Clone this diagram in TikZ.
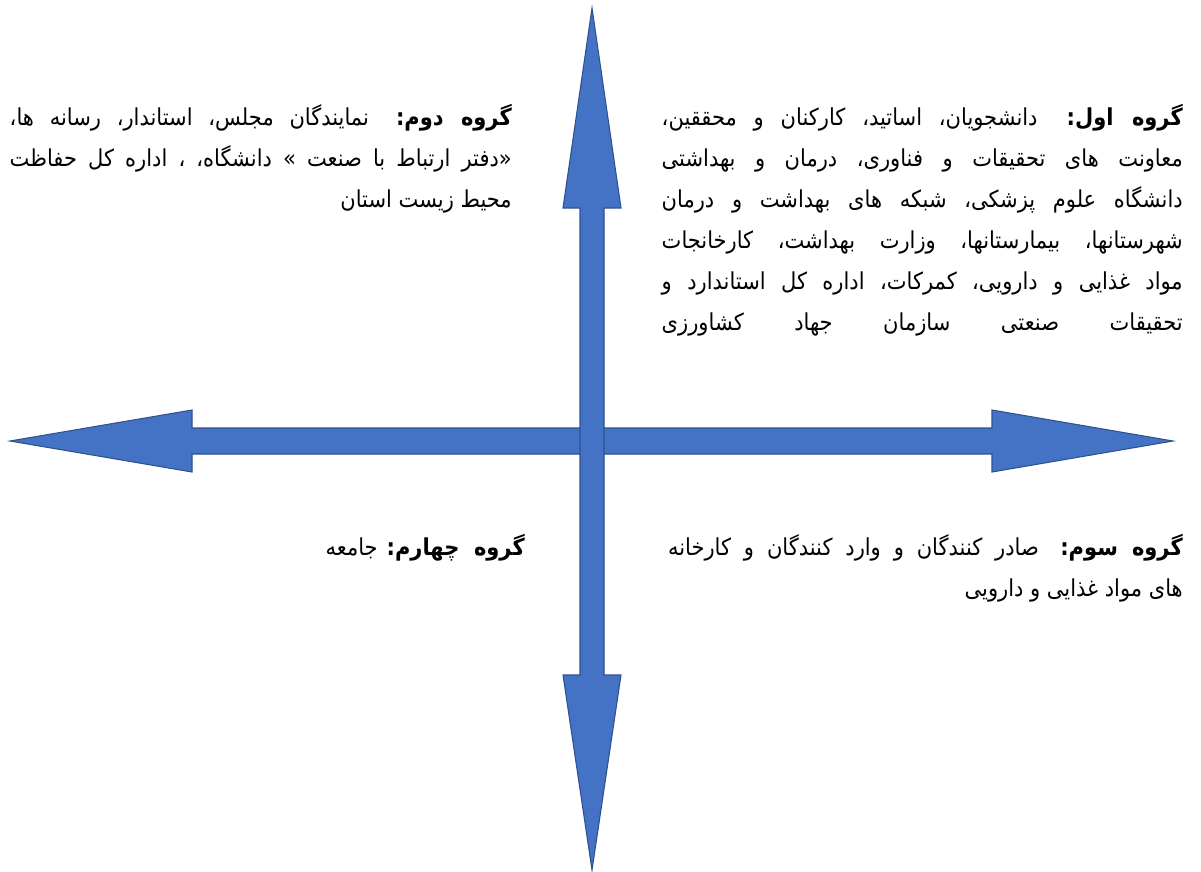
\documentclass[tikz,border=0pt]{standalone}
\usepackage{fontspec}
\newfontfamily\farsi[Script=Arabic,FakeStretch=0.9]{DejaVu Sans}
\TeXXeTstate=1
\usetikzlibrary{positioning}
\definecolor{arrowblue}{HTML}{4472C4}
\definecolor{arrowedge}{HTML}{2F528F}
% justified line box
\newcommand\jbox[2]{\makebox[#1][s]{#2}}

\begin{document}
\begin{tikzpicture}[x=0.75pt,y=-0.75pt,
  bigarrow/.style={fill=arrowblue,draw=arrowedge,line width=0.8pt,line join=miter},
  group/.style={inner sep=0pt,align=right,font=\farsi\fontsize{17.5}{30.75}\selectfont}]
\useasboundingbox (0,0) rectangle (1201,871);
\coordinate (c) at (592,441);
% horizontal double arrow
\draw[bigarrow] (10,441) -- (192,410) -- (192,428) -- (992,428) -- (992,410) -- (1173,441)
  -- (992,472) -- (992,454) -- (192,454) -- (192,472) -- cycle;
% vertical double arrow
\draw[bigarrow] (592,8) -- (621,208) -- (604,208) -- (604,675) -- (621,675) -- (592,870)
  -- (563,675) -- (580,675) -- (580,208) -- (563,208) -- cycle;

\node[group,anchor=north east] (g1) at (1183,104) {%
\jbox{390.75pt}{\beginR\textbf{گروه اول:} دانشجویان، اساتید، کارکنان و محققین،\endR}\\
\jbox{390.75pt}{\beginR معاونت های تحقیقات و فناوری، درمان و بهداشتی\endR}\\
\jbox{390.75pt}{\beginR دانشگاه علوم پزشکی، شبکه های بهداشت و درمان\endR}\\
\jbox{390.75pt}{\beginR شهرستانها، بیمارستانها، وزارت بهداشت، کارخانجات\endR}\\
\jbox{390.75pt}{\beginR مواد غذایی و دارویی، کمرکات، اداره کل استاندارد و\endR}\\
\jbox{390.75pt}{\beginR تحقیقات صنعتی سازمان جهاد کشاورزی\endR}};
\node[group,anchor=north east] (g2) at (512,104) {%
\jbox{376.5pt}{\beginR\textbf{گروه دوم:} نمایندگان مجلس، استاندار، رسانه ها،\endR}\\
\jbox{376.5pt}{\beginR«دفتر ارتباط با صنعت » دانشگاه، ، اداره کل حفاظت\endR}\\
\beginR محیط زیست استان\endR};
\node[group,anchor=north east] (g3) at (1183,534) {%
\jbox{386pt}{\beginR\textbf{گروه سوم:} صادر کنندگان و وارد کنندگان و کارخانه\endR}\\
\beginR های مواد غذایی و دارویی\endR};
\node[group,anchor=north east] (g4) at (525,534) {%
\beginR\textbf{گروه\ \ چهارم:} جامعه\endR};
\end{tikzpicture}
\end{document}
